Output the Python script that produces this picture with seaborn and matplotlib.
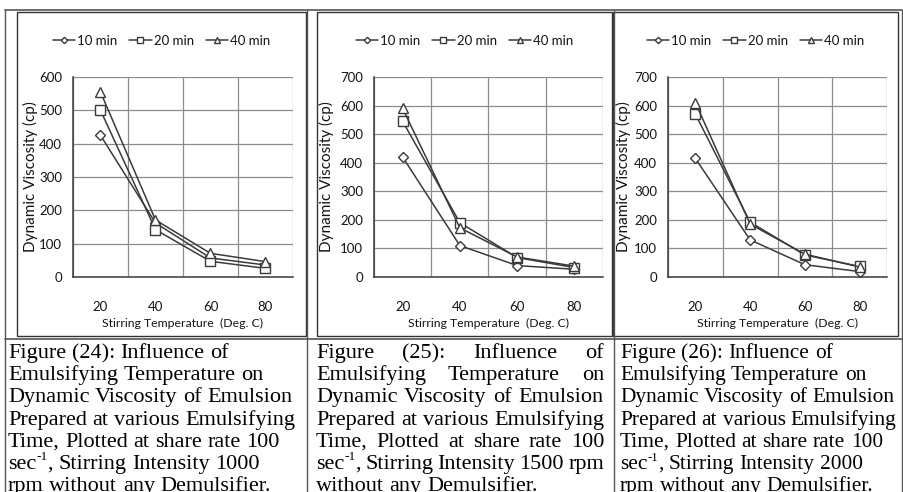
import matplotlib
matplotlib.use('Agg')
import matplotlib.pyplot as plt
import seaborn as sns
from matplotlib.patches import Rectangle
from matplotlib.lines import Line2D

# ---- data (viscosity in cp) ----
temps = ['20', '40', '60', '80']
times = ['10 min', '20 min', '40 min']

fig24_10min = [425, 162, 57, 36]
fig24_20min = [500, 142, 47, 26]
fig24_40min = [555, 171, 71, 46]

fig25_10min = [420, 110, 40, 27]
fig25_20min = [545, 190, 68, 33]
fig25_40min = [590, 172, 70, 38]

fig26_10min = [415, 130, 43, 19]
fig26_20min = [570, 192, 77, 37]
fig26_40min = [610, 185, 80, 35]

y_max = [600, 700, 700]

# '^' marks the superscript "-1" after "sec"
captions = [
    ['Figure (24): Influence of',
     'Emulsifying Temperature on',
     'Dynamic Viscosity of Emulsion',
     'Prepared at various Emulsifying',
     'Time, Plotted at share rate 100',
     'sec^-1, Stirring Intensity 1000',
     'rpm without any Demulsifier.'],
    ['Figure (25): Influence of',
     'Emulsifying Temperature on',
     'Dynamic Viscosity of Emulsion',
     'Prepared at various Emulsifying',
     'Time, Plotted at share rate 100',
     'sec^-1, Stirring Intensity 1500 rpm',
     'without any Demulsifier.'],
    ['Figure (26): Influence of',
     'Emulsifying Temperature on',
     'Dynamic Viscosity of Emulsion',
     'Prepared at various Emulsifying',
     'Time, Plotted at share rate 100',
     'sec^-1, Stirring Intensity 2000',
     'rpm without any Demulsifier.'],
]

sns.set_style('white')
plt.rcParams['font.family'] = ['Lato', 'DejaVu Sans']

W, H = 904, 492
fig = plt.figure(figsize=(W / 100, H / 100), dpi=100)
fig.patch.set_facecolor('white')

def fx(px):
    return px / W

def fy(py):
    return 1 - py / H

line_col = '#3a3a3a'
text_col = '#141414'
grid_col = '#8c8c8c'
markers = ['D', 's', '^']
msizes = [5, 7.5, 7]

panels = [
    [fig24_10min, fig24_20min, fig24_40min],
    [fig25_10min, fig25_20min, fig25_40min],
    [fig26_10min, fig26_20min, fig26_40min],
]
# plot area (left, right, top, bottom) and chart frame (left, right) in pixels
plot_px = [(73, 293, 77, 277), (374, 603, 77, 277), (668, 887, 77, 277)]
frame_px = [(17, 306), (317, 612), (613, 898)]
ylab_px = [38, 334, 631]

pos = list(range(len(temps)))

for i, series in enumerate(panels):
    l, r, t, b = plot_px[i]
    ax = fig.add_axes([fx(l), fy(b), (r - l) / W, (b - t) / H])
    for name, vals, m, ms in zip(times, series, markers, msizes):
        sns.lineplot(x=pos, y=vals, ax=ax, color=line_col, lw=1.1,
                     marker=m, markersize=ms, markerfacecolor='white',
                     markeredgecolor=line_col, markeredgewidth=1.0,
                     label=name)

    ax.set_xlim(-0.5, len(temps) - 0.5)
    ax.set_ylim(0, y_max[i])
    ax.set_yticks(range(0, y_max[i] + 1, 100))
    ax.set_xticks([p - 0.5 for p in pos] + [len(temps) - 0.5])
    ax.set_xticklabels([])
    ax.set_xticks(pos, minor=True)
    ax.set_xticklabels(temps, minor=True)
    ax.tick_params(axis='x', which='major', length=4, width=1, color=line_col, direction='out')
    ax.tick_params(axis='x', which='minor', length=0, pad=17, labelsize=9.5, labelcolor=text_col)
    ax.tick_params(axis='y', length=4, width=1, color=line_col, direction='out',
                   pad=4, labelsize=9.5, labelcolor=text_col)
    ax.grid(True, which='major', color=grid_col, lw=0.9)
    for s in ['top', 'right']:
        ax.spines[s].set_visible(False)
    for s in ['left', 'bottom']:
        ax.spines[s].set_color(line_col)
        ax.spines[s].set_linewidth(1.1)

    ax.set_xlabel('Stirring Temperature  (Deg. C)', fontsize=8.8, color=text_col)
    ax.xaxis.set_label_coords(0.5, -(318 - b) / (b - t))
    ax.set_ylabel('Dynamic Viscosity (cp)', fontsize=11, color=text_col)
    ax.yaxis.set_label_coords((ylab_px[i] - l) / (r - l), 0.5)

    fl, fr = frame_px[i]
    ax.legend(loc='center', bbox_to_anchor=(fx((fl + fr) / 2), fy(41)),
              bbox_transform=fig.transFigure, ncol=3, frameon=False,
              fontsize=9.5, labelcolor=text_col, handlelength=1.7,
              handletextpad=0.15, columnspacing=0.9, markerscale=0.65)

    fig.add_artist(Rectangle((fx(fl), fy(336)), (fr - fl) / W, (336 - 12) / H,
                             transform=fig.transFigure, fill=False,
                             edgecolor='#333333', lw=1.0))

# table lines around the charts and captions
for x in [5, 307, 614, 902]:
    fig.add_artist(Line2D([fx(x), fx(x)], [fy(10), fy(492)], transform=fig.transFigure,
                          color='#555555', lw=1.0))
for y in [10, 339]:
    fig.add_artist(Line2D([fx(5), fx(902)], [fy(y), fy(y)], transform=fig.transFigure,
                          color='#555555', lw=1.2))

# captions
renderer = fig.canvas.get_renderer()

def draw_word(word, y, size):
    # returns the text pieces with their x offsets and the total width
    if '^' in word:
        base, rest = word.split('^')
        pieces = [(base, size, 0), (rest[:2], size * 0.6, -size * 0.55), (rest[2:], size, 0)]
    else:
        pieces = [(word, size, 0)]
    out = []
    w = 0
    for s, fs, dy in pieces:
        if not s:
            continue
        tt = fig.text(0, fy(y + dy), s, fontsize=fs, family='Liberation Serif',
                      color='black', va='baseline')
        out.append((tt, w))
        w += tt.get_window_extent(renderer).width
    return out, w

cap_x = [(8, 300), (316, 604), (620, 900)]
cap_size = [16, 16, 15.4]
justify = [False, True, False]
for i, lines in enumerate(captions):
    x0, x1 = cap_x[i]
    size = cap_size[i]
    space = size * 100 / 72 * 0.25
    for k, txt in enumerate(lines):
        y = 358 + k * 22.2
        words = [draw_word(wd, y, size) for wd in txt.split(' ')]
        total = sum(w for _, w in words)
        if justify[i] and k < len(lines) - 1:
            gap = (x1 - x0 - total) / (len(words) - 1)
        else:
            gap = space
        xx = x0
        for pieces, w in words:
            for tt, off in pieces:
                tt.set_x(fx(xx + off))
            xx += w + gap

fig.savefig('out.png', dpi=100)
